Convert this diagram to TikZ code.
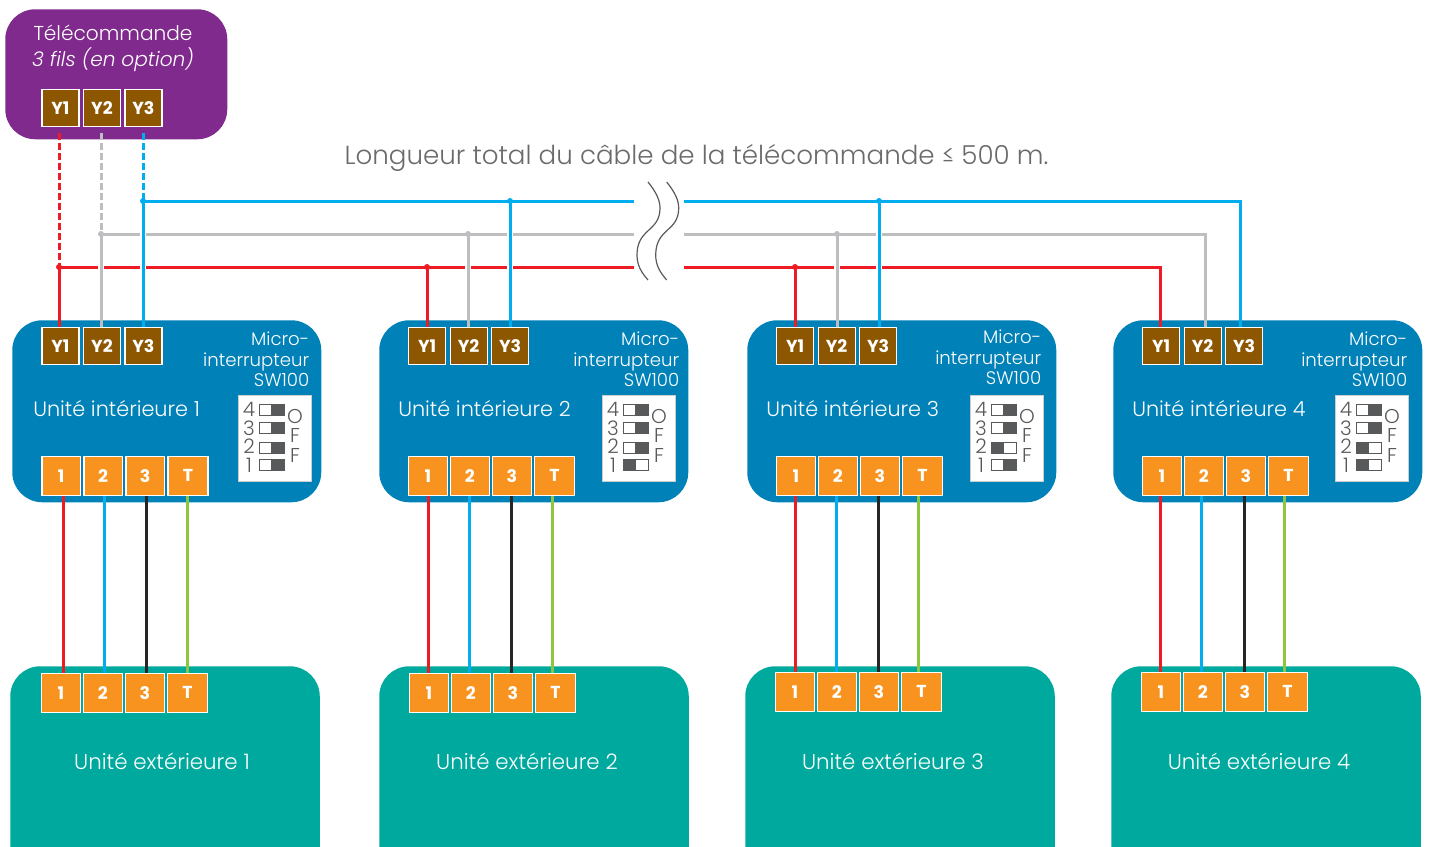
\documentclass[tikz,border=0pt]{standalone}
\usepackage{fontspec}
\setmainfont{Poppins Light}[BoldFont={Poppins Bold},ItalicFont={Poppins Light Italic}]
\usepackage{tikz}
\usetikzlibrary{positioning,calc}
\def\px{0.75pt}
\definecolor{remotepurple}{HTML}{7F2A8C}
\definecolor{indoorblue}{HTML}{0081B8}
\definecolor{outdoorteal}{HTML}{00A99D}
\definecolor{termbrown}{HTML}{8C5700}
\definecolor{termorange}{HTML}{F7931E}
\definecolor{wirered}{HTML}{ED1C24}
\definecolor{wiregrey}{HTML}{BCBEC0}
\definecolor{wireblue}{HTML}{00AEEF}
\definecolor{wiregreen}{HTML}{8DC63F}
\definecolor{dipgrey}{HTML}{58595B}
\tikzset{
    x=\px, y=-\px,
    panel/.style={rounded corners=30*\px, inner sep=0pt, anchor=north west},
    yterm/.style={draw=white, line width=1.2*\px, fill=termbrown, text=white, inner sep=0pt,
        minimum size=37*\px, anchor=north west, font=\fontsize{13pt}{13pt}\selectfont\bfseries},
    numterm/.style={draw=white, line width=1.2*\px, fill=termorange, text=white, inner sep=0pt,
        minimum size=38.5*\px, anchor=north west, font=\fontsize{13pt}{13pt}\selectfont\bfseries},
    label/.style={text=white, inner sep=0pt, font=\fontsize{15.6pt}{15.6pt}\selectfont},
    wire/.style={line width=3*\px},
    dashwire/.style={wire, dash pattern=on 7*\px off 3*\px, shorten <=6*\px},
    junction/.style={circle, inner sep=0pt, minimum size=6*\px},
    gapline/.style={white, line width=6*\px},
    bendline/.style={dipgrey, line width=1.2*\px},
    diptext/.style={text=dipgrey, inner sep=0pt, font=\fontsize{15pt}{15pt}\selectfont},
}
\begin{document}
\begin{tikzpicture}
    \path[use as bounding box, clip] (0,0) rectangle (1430,846);
    % remote
    \node[panel, fill=remotepurple, minimum width=222*\px, minimum height=130*\px] (remote) at (5,9) {};
    \node[label, align=center, font=\fontsize{15.1pt}{15.1pt}\selectfont] (remotetxt) at (113,48.5) {Télécommande\\[4pt]\itshape 3 fils (en option)};
    \foreach \i/\xx in {1/41.3,2/82.8,3/124.3}{
        \node[yterm] (remy\i) at (\xx,89) {Y\i};
    }
    \node[text=dipgrey!90, inner sep=0pt, font=\fontsize{19.6pt}{19.6pt}\selectfont] (title) at (696.5,158) {Longueur total du câble de la télécommande ≤ 500 m.};

    % units
    \foreach \n/\ux/\yx/\tx/\tr/\dx/\ty/\swb/\swa in {1/12/41.3/33/309.5/238/0/0/0,2/379/408/398/679.5/602/0/0/1,3/747/776/766/1041.5/970/-2/1/0,4/1113/1142/1132/1407.5/1335/0/1/1}{
        \node[panel, fill=indoorblue, minimum width=309*\px, minimum height=182*\px] (in\n) at (\ux,320) {};
        \node[yterm] (in\n y1) at (\yx,327) {Y1};
        \node[yterm, right=3.3*\px of in\n y1] (in\n y2) {Y2};
        \node[yterm, right=3.3*\px of in\n y2] (in\n y3) {Y3};
        \node[label, anchor=base west] (in\n name) at (\tx,416) {Unité intérieure \n};
        \node[label, anchor=north east, align=right, font=\fontsize{13.6pt}{15.4pt}\selectfont] (in\n sw) at (\tr,{332+\ty}) {Micro-\\interrupteur\\SW100};
        \node[numterm] (in\n a) at (\yx,456) {1};
        \node[numterm, right=2.3*\px of in\n a] (in\n b) {2};
        \node[numterm, right=2.3*\px of in\n b] (in\n c) {3};
        \node[numterm, right=2.3*\px of in\n c, minimum width=40*\px] (in\n d) {T};
        % dip switch
        \node[draw=dipgrey!30, fill=white, inner sep=0pt, anchor=north west, minimum width=73*\px, minimum height=86*\px] (dip\n) at (\dx,395) {};
        \begin{scope}[shift={(dip\n.north west)}, x=\px, y=-\px]
            \foreach \d/\yy/\ly/\sw in {4/9/14.5/0,3/27/33.5/0,2/47/51.5/\swb,1/64/70.5/\swa}{
                \pgfmathsetmacro{\darkx}{\sw==1 ? 21 : 33}
                \node[diptext] at (11,\ly) {\d};
                \draw[dipgrey, line width=1*\px, fill=white] (21,\yy) rectangle (46,\yy+11);
                \fill[dipgrey] (\darkx,\yy) rectangle (\darkx+13,\yy+11);
            }
            \foreach \l/\yy in {O/21,F/41,F/61}{
                \node[diptext] at (57,\yy) {\l};
            }
        \end{scope}
    }
    \foreach \n/\ux/\tx/\ox/\oy in {1/10/162/41/673,2/379/527/409/673,3/745/893/775/672,4/1111/1259/1141/672}{
        \node[panel, fill=outdoorteal, minimum width=309.5*\px, minimum height=220*\px] (out\n) at (\ux,666) {};
        \node[label, font=\fontsize{16pt}{16pt}\selectfont] (out\n name) at (\tx,761) {Unité extérieure \n};
        \node[numterm] (out\n a) at (\ox,\oy) {1};
        \node[numterm, right=2.3*\px of out\n a] (out\n b) {2};
        \node[numterm, right=2.3*\px of out\n b] (out\n c) {3};
        \node[numterm, right=2.3*\px of out\n c, minimum width=40*\px] (out\n d) {T};
    }

    % wires between indoor and outdoor
    \foreach \n/\xa/\xb/\xc/\xd in {1/63/104/146/187,2/428/469/511/552,3/795/836/878/918,4/1160/1201/1244/1284}{
        \coordinate (pa\n) at (\xa,600);
        \coordinate (pb\n) at (\xb,600);
        \coordinate (pc\n) at (\xc,600);
        \coordinate (pd\n) at (\xd,600);
        \draw[wire, wirered] (pa\n |- in\n a.south) -- (pa\n |- out\n a.north);
        \draw[wire, wireblue] (pb\n |- in\n b.south) -- (pb\n |- out\n b.north);
        \draw[wire, black!85] (pc\n |- in\n c.south) -- (pc\n |- out\n c.north);
        \draw[wire, wiregreen] (pd\n |- in\n d.south) -- (pd\n |- out\n d.north);
    }

    % remote bus
    \foreach \w/\yy in {r/267,g/234,b/201}{
        \coordinate (\w cutl) at (634,\yy);
        \coordinate (\w cutr) at (684,\yy);
    }
    \coordinate (r4) at (1160,267);
    \coordinate (g4) at (1205,234);
    \coordinate (b4) at (1240,201);
    \foreach \n/\xr/\xg/\xb in {1/59/101/143,2/427/468/510,3/795/837/879}{
        \coordinate (r\n) at (\xr,267);
        \coordinate (g\n) at (\xg,234);
        \coordinate (b\n) at (\xb,201);
        \coordinate (gr\n) at (\xg,267);
        \coordinate (br\n) at (\xb,267);
        \coordinate (bg\n) at (\xb,234);
    }
    \draw[wire, wirered] (r1) -- (rcutl) (rcutr) -- (r4) -- (r4 |- in4y1.north);
    \draw[wire, wiregrey] (g1) -- (gcutl) (gcutr) -- (g4) -- (g4 |- in4y2.north);
    \draw[wire, wireblue] (b1) -- (bcutl) (bcutr) -- (b4) -- (b4 |- in4y3.north);
    \draw[dashwire, wirered] (r1 |- remy1.south) -- (r1);
    \draw[dashwire, wiregrey] (g1 |- remy2.south) -- (g1);
    \draw[dashwire, wireblue] (b1 |- remy3.south) -- (b1);
    \foreach \n in {1,2,3}{
        \draw[wire, wirered] (r\n) -- (r\n |- in\n y1.north);
        \draw[gapline] ([yshift=3.5*\px]gr\n) -- ([yshift=-3.5*\px]gr\n);
        \draw[wire, wiregrey] (g\n) -- (g\n |- in\n y2.north);
        \draw[gapline] ([yshift=3.5*\px]bg\n) -- ([yshift=-3.5*\px]bg\n);
        \draw[gapline] ([yshift=3.5*\px]br\n) -- ([yshift=-3.5*\px]br\n);
        \draw[wire, wireblue] (b\n) -- (b\n |- in\n y3.north);
        \node[junction, fill=wirered] (jr\n) at (r\n) {};
        \node[junction, fill=wiregrey] (jg\n) at (g\n) {};
        \node[junction, fill=wireblue] (jb\n) at (b\n) {};
    }

    % cable break
    \foreach \xx in {0,18.7}{
        \draw[bendline] (648+\xx,182) .. controls (656+\xx,192) and (660+\xx,200) .. (660+\xx,208)
            .. controls (660+\xx,232) and (637+\xx,228) .. (637+\xx,255)
            .. controls (637+\xx,265) and (641+\xx,272) .. (648+\xx,280);
    }
\end{tikzpicture}
\end{document}
